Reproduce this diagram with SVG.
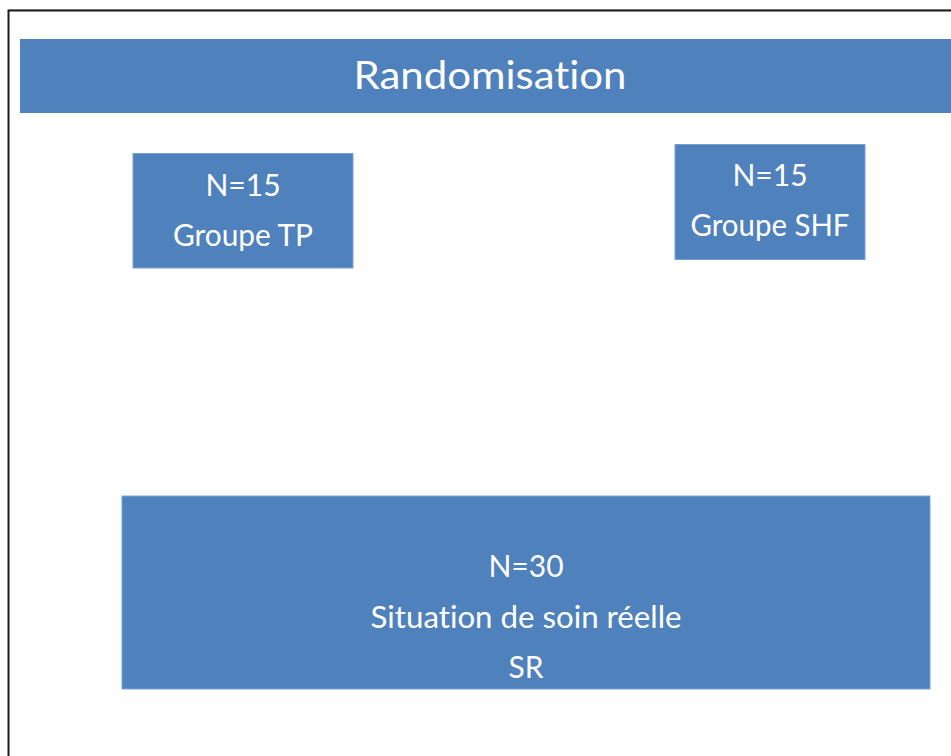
<svg xmlns="http://www.w3.org/2000/svg" width="951" height="756" viewBox="0 0 951 756">
<style>
.box{fill:#4F81BD;stroke:#7CA0D4;stroke-width:1}
.t{fill:#fff;font-family:Lato,"Open Sans",sans-serif;text-anchor:middle;font-variant-ligatures:none;font-feature-settings:"liga" 0}
.s{font-size:30px}
</style>
<rect width="951" height="756" fill="#fff"/>
<line x1="8" y1="9.5" x2="951" y2="9.5" stroke="#d0d0d0" stroke-width="1"/>
<path d="M8.5 756 V10.5 H951" fill="none" stroke="#1a1a1a" stroke-width="2"/>
<g id="randomisation">
<rect x="20" y="39" width="940" height="74" fill="#4F81BD"/>
<text class="t" x="490" y="89" font-size="39" textLength="273" lengthAdjust="spacingAndGlyphs">Randomisation</text>
</g>
<g id="groupe-tp">
<rect class="box" x="133" y="153.5" width="220" height="114.5"/>
<text class="t s" x="243" y="196">N=15</text>
<text class="t s" x="243" y="246" textLength="140" lengthAdjust="spacingAndGlyphs">Groupe TP</text>
</g>
<g id="groupe-shf">
<rect class="box" x="675" y="144.5" width="190" height="115"/>
<text class="t s" x="770" y="186">N=15</text>
<text class="t s" x="770" y="236" textLength="159" lengthAdjust="spacingAndGlyphs">Groupe SHF</text>
</g>
<g id="situation">
<rect class="box" x="122" y="496" width="808" height="193"/>
<text class="t s" x="526" y="577">N=30</text>
<text class="t s" x="526" y="628" textLength="311" lengthAdjust="spacingAndGlyphs">Situation de soin réelle</text>
<text class="t s" x="526" y="678">SR</text>
</g>
<g id="connectors"/>
</svg>
